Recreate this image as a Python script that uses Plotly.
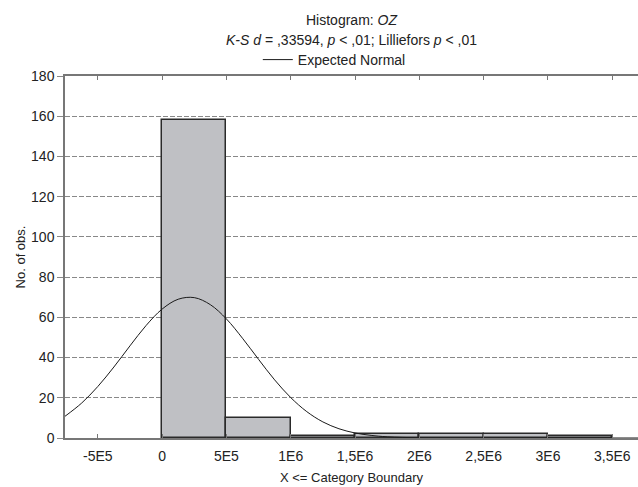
import plotly.graph_objects as go

# Histogram bins (upper category boundaries) and counts
bin_left = [0, 5e5, 1e6, 1.5e6, 2e6, 2.5e6, 3e6]
bin_width = 5e5
counts = [158, 10, 1, 2, 2, 2, 1]

# Expected normal curve
curve_x = [-7.55e5, -6.25e5, -5e5, -3.75e5, -2.5e5, -1.25e5, 0, 1.25e5, 2.5e5, 3.75e5,
           5e5, 6.25e5, 7.5e5, 8.75e5, 1e6, 1.125e6, 1.25e6, 1.375e6, 1.5e6, 1.625e6,
           1.75e6, 2e6, 2.25e6, 2.5e6, 3e6, 3.5e6, 3.7e6]
curve_y = [10.8, 17.4, 25.6, 35.3, 45.8, 55.9, 64.1, 69.0, 69.8, 66.3,
           59.2, 49.6, 39.1, 28.9, 20.1, 13.1, 8.0, 4.6, 2.5, 1.3,
           0.6, 0.1, 0.0, 0.0, 0.0, 0.0, 0.0]

x_tickvals = [-5e5, 0, 5e5, 1e6, 1.5e6, 2e6, 2.5e6, 3e6, 3.5e6]
x_ticktext = ["-5E5", "0", "5E5", "1E6", "1,5E6", "2E6", "2,5E6", "3E6", "3,5E6"]
y_tickvals = [0, 20, 40, 60, 80, 100, 120, 140, 160, 180]

FONT = "Liberation Sans, Arial, sans-serif"

fig = go.Figure()
fig.add_trace(go.Bar(
    x=[b + bin_width / 2 for b in bin_left], y=counts, width=bin_width,
    marker=dict(color="#bfc0c4", line=dict(color="#2a2a2a", width=1.5)),
    showlegend=False, hoverinfo="skip"))
fig.add_trace(go.Scatter(
    x=curve_x, y=curve_y, mode="lines", name="Expected Normal",
    line=dict(color="#1a1a1a", width=1, shape="spline", smoothing=1.0)))

fig.update_layout(
    width=638, height=487,
    margin=dict(l=65, r=0, t=76, b=49),
    paper_bgcolor="white", plot_bgcolor="white",
    font=dict(family=FONT, size=14, color="#222"),
    bargap=0,
    showlegend=True,
    legend=dict(orientation="h", x=0.47, xanchor="center", y=1.0, yanchor="bottom",
                font=dict(size=14), itemwidth=30, bgcolor="rgba(0,0,0,0)"),
    annotations=[
        dict(text="Histogram: <i>OZ</i>", xref="paper", yref="paper", x=0.5, y=1,
             yanchor="middle", yshift=56, showarrow=False, font=dict(size=14)),
        dict(text="<i>K-S d</i> = ,33594, <i>p</i> < ,01; Lilliefors <i>p</i> < ,01",
             xref="paper", yref="paper", x=0.5, y=1, yanchor="middle", yshift=36,
             showarrow=False, font=dict(size=14)),
    ],
    xaxis=dict(range=[-7.55e5, 3.7e6], tickvals=x_tickvals, ticktext=x_ticktext,
               showgrid=False, zeroline=False, showline=True, linecolor="#777",
               linewidth=1.5, mirror="allticks", ticks="inside", ticklen=4,
               tickcolor="#777", ticklabelstandoff=4,
               title=dict(text="X <= Category Boundary", font=dict(size=13), standoff=10)),
    yaxis=dict(range=[0, 180], tickvals=y_tickvals, showgrid=True, gridcolor="#888",
               griddash="5px,2px", gridwidth=1, zeroline=False, showline=True,
               linecolor="#777", linewidth=1.5, ticks="outside", ticklen=6,
               tickcolor="#888",
               title=dict(text="No. of obs.", font=dict(size=13), standoff=3)),
)

fig.write_html("out.html", config={"displayModeBar": False},
               post_script="document.body.style.margin='0';")
